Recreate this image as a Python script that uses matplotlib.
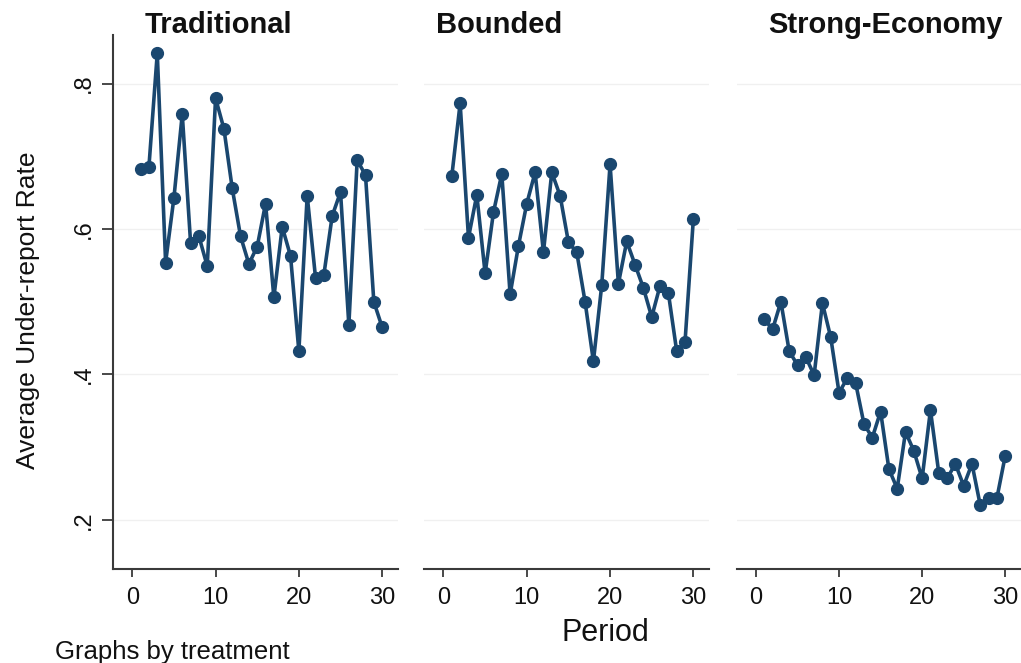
import matplotlib.pyplot as plt

plt.rcParams['font.family'] = ['Liberation Sans', 'DejaVu Sans']

# Average under-report rate by period, one series per treatment
periods = list(range(1, 31))

traditional = [0.683, 0.686, 0.842, 0.554, 0.643, 0.758, 0.581, 0.590, 0.549, 0.780,
               0.738, 0.656, 0.590, 0.552, 0.576, 0.635, 0.506, 0.603, 0.563, 0.432,
               0.646, 0.533, 0.537, 0.618, 0.651, 0.468, 0.695, 0.674, 0.500, 0.465]

bounded = [0.673, 0.773, 0.588, 0.647, 0.539, 0.623, 0.676, 0.510, 0.577, 0.635,
           0.678, 0.568, 0.678, 0.646, 0.582, 0.568, 0.500, 0.418, 0.523, 0.689,
           0.525, 0.583, 0.551, 0.519, 0.479, 0.522, 0.512, 0.432, 0.445, 0.614]

strong_economy = [0.476, 0.462, 0.500, 0.432, 0.413, 0.424, 0.399, 0.498, 0.451, 0.375,
                  0.395, 0.388, 0.332, 0.313, 0.349, 0.270, 0.243, 0.321, 0.295, 0.257,
                  0.351, 0.265, 0.257, 0.277, 0.247, 0.277, 0.220, 0.230, 0.230, 0.288]

panel_titles = ['Traditional', 'Bounded', 'Strong-Economy']
series = [traditional, bounded, strong_economy]
x_ticks = [0, 10, 20, 30]
y_ticks = [0.2, 0.4, 0.6, 0.8]
y_tick_labels = ['.2', '.4', '.6', '.8']

navy = '#1a476f'
axis_col = '#3a3a3a'

fig = plt.figure(figsize=(10.21, 6.63), dpi=100)

lefts = [0.1108, 0.4156, 0.7217]
title_x = [145, 436, 768]
bottom, height, width = 0.1413, 0.806, 0.279

for i, (vals, left) in enumerate(zip(series, lefts)):
    ax = fig.add_axes([left, bottom, width if i < 2 else 0.2783, height])
    ax.plot(periods, vals, color=navy, lw=2.6, marker='o', ms=8.5,
            mfc=navy, mec=navy, zorder=3)
    ax.set_xlim(-2.3, 31.9)
    ax.set_ylim(0.132, 0.867)
    ax.set_xticks(x_ticks)
    ax.set_yticks(y_ticks)
    ax.grid(axis='y', color='#f0f0f0', lw=1.0, zorder=0)
    for s in ['top', 'right']:
        ax.spines[s].set_visible(False)
    ax.spines['bottom'].set_color(axis_col)
    ax.spines['bottom'].set_linewidth(1.5)
    ax.tick_params(axis='x', length=6, width=1.3, color=axis_col,
                   labelsize=17, pad=7, labelcolor='#111111')
    if i == 0:
        ax.spines['left'].set_color(axis_col)
        ax.spines['left'].set_linewidth(1.5)
        ax.set_yticklabels(y_tick_labels, rotation=90, va='center')
        ax.tick_params(axis='y', length=8, width=1.3, color=axis_col,
                       labelsize=17, pad=5, labelcolor='#111111')
    else:
        ax.spines['left'].set_visible(False)
        ax.tick_params(axis='y', left=False, labelleft=False)
    fig.text(title_x[i] / 1021, 1 - 33.3 / 663, panel_titles[i],
             fontsize=21, fontweight='bold', color='#111111',
             ha='left', va='baseline')

fig.text(28 / 1021, 1 - 310 / 663, 'Average Under-report Rate',
         rotation=90, fontsize=19, ha='center', va='center', color='#111111')
fig.text(605 / 1021, 1 - 641 / 663, 'Period', fontsize=22,
         ha='center', va='baseline', color='#111111')
fig.text(55 / 1021, 1 - 659 / 663, 'Graphs by treatment', fontsize=18.5,
         ha='left', va='baseline', color='#111111')

plt.savefig('out.png', dpi=100, facecolor='white')
